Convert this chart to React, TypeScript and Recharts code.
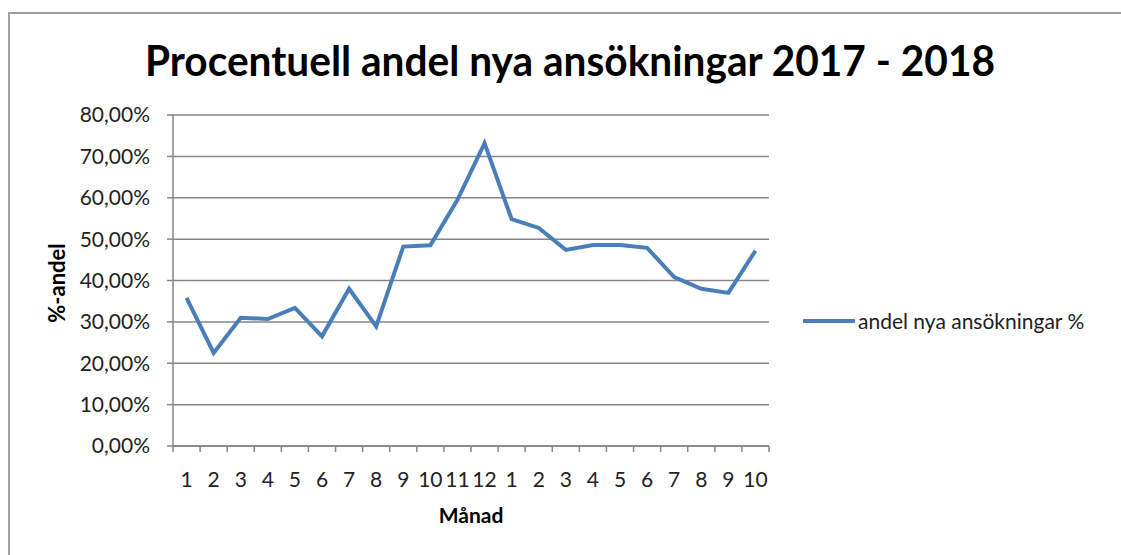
import React from "react";
import { LineChart, Line, XAxis, YAxis, CartesianGrid, Legend } from "recharts";

const months = ["1","2","3","4","5","6","7","8","9","10","11","12","1","2","3","4","5","6","7","8","9","10"];
const shares = [35.8, 22.5, 31.0, 30.7, 33.4, 26.5, 38.0, 28.9, 48.2, 48.5, 59.5, 73.2, 54.8, 52.7, 47.4, 48.6, 48.6, 47.9, 40.8, 38.0, 37.0, 47.2];
const yTicks = [0, 10, 20, 30, 40, 50, 60, 70, 80];
const seriesName = "andel nya ansökningar %";
const title = "Procentuell andel nya ansökningar 2017 - 2018";
const xTitle = "Månad";
const yTitle = "%-andel";

const data = months.map((m, i) => ({ m, v: shares[i] }));

const FONT = "Lato, 'Open Sans', sans-serif";
const GRID = "#868686";
const BLUE = "#4a7ebb";
const TICK_MARGIN = 26;
const TICK_LEN = 6;
const PLOT_W = 596;
const HALF_BAND = PLOT_W / months.length / 2;

const fmt = (v: number) => v.toFixed(2).replace(".", ",") + "%";

const XTick = (props: any) => {
  const { x, y, payload, index, visibleTicksCount, width } = props;
  const count = visibleTicksCount || months.length;
  const w = typeof width === "number" && width > 0 ? width : PLOT_W;
  const half = w / count / 2;
  const axisY = y - TICK_MARGIN;
  return (
    <g>
      <line x1={x - half} y1={axisY} x2={x - half} y2={axisY + TICK_LEN} stroke={GRID} strokeWidth={1.5} />
      {index === count - 1 ? (
        <line x1={x + half} y1={axisY} x2={x + half} y2={axisY + TICK_LEN} stroke={GRID} strokeWidth={1.5} />
      ) : null}
      <text x={x} y={y} dy="0.71em" textAnchor="middle" fill="#222" fontSize={21} fontFamily={FONT}>
        {payload.value}
      </text>
    </g>
  );
};

const LegendContent = () => (
  <div style={{ display: "flex", alignItems: "center", fontFamily: FONT, fontSize: 21, color: "#222", whiteSpace: "nowrap" }}>
    <svg width={52} height={10} style={{ marginRight: 3 }}>
      <line x1={1} y1={5} x2={51} y2={5} stroke={BLUE} strokeWidth={4} strokeLinecap="round" />
    </svg>
    <span>{seriesName}</span>
  </div>
);

export default function App() {
  return (
    <div style={{ position: "fixed", left: 0, top: 0, width: 1121, height: 555, overflow: "hidden", background: "#fff" }}>
      <div style={{ position: "absolute", left: 8, top: 12, width: 1300, height: 700, borderLeft: "2px solid #a0a0a0", borderTop: "2px solid #a0a0a0" }} />
      <div style={{ position: "absolute", left: 0, top: 0 }}>
        <LineChart width={1121} height={555} data={data} margin={{ top: 115, right: 352, bottom: 69, left: 93 }}>
          <CartesianGrid vertical={false} stroke={GRID} strokeWidth={1.5} />
          <XAxis
            dataKey="m"
            height={40}
            interval={0}
            padding={{ left: HALF_BAND, right: HALF_BAND }}
            axisLine={{ stroke: GRID, strokeWidth: 1.5 }}
            tickLine={false}
            tickSize={0}
            tickMargin={TICK_MARGIN}
            tick={<XTick />}
          />
          <YAxis
            domain={[0, 80]}
            ticks={yTicks}
            width={80}
            tickSize={TICK_LEN}
            tickMargin={17}
            tickFormatter={fmt}
            axisLine={{ stroke: GRID, strokeWidth: 1.5 }}
            tickLine={{ stroke: GRID, strokeWidth: 1.5 }}
            tick={{ fill: "#222", fontSize: 21, fontFamily: FONT }}
          />
          <Legend
            layout="vertical"
            align="center"
            verticalAlign="middle"
            wrapperStyle={{ position: "absolute", left: 803, top: 308, width: 310 }}
            content={<LegendContent />}
          />
          <Line
            type="linear"
            dataKey="v"
            name={seriesName}
            stroke={BLUE}
            strokeWidth={4}
            dot={false}
            isAnimationActive={false}
          />
        </LineChart>
      </div>
      <svg style={{ position: "absolute", left: 0, top: 0, pointerEvents: "none" }} width={1121} height={555}>
        <text x={145} y={76} textLength={850} lengthAdjust="spacingAndGlyphs" fontFamily={FONT} fontWeight={700} fontSize={42} fill="#000">
          {title}
        </text>
        <text x={471} y={523} textAnchor="middle" fontFamily={FONT} fontWeight={700} fontSize={21} fill="#000">
          {xTitle}
        </text>
        <text x={0} y={0} transform="translate(65 283) rotate(-90)" textAnchor="middle" fontFamily={FONT} fontWeight={700} fontSize={22} fill="#000">
          {yTitle}
        </text>
      </svg>
    </div>
  );
}
